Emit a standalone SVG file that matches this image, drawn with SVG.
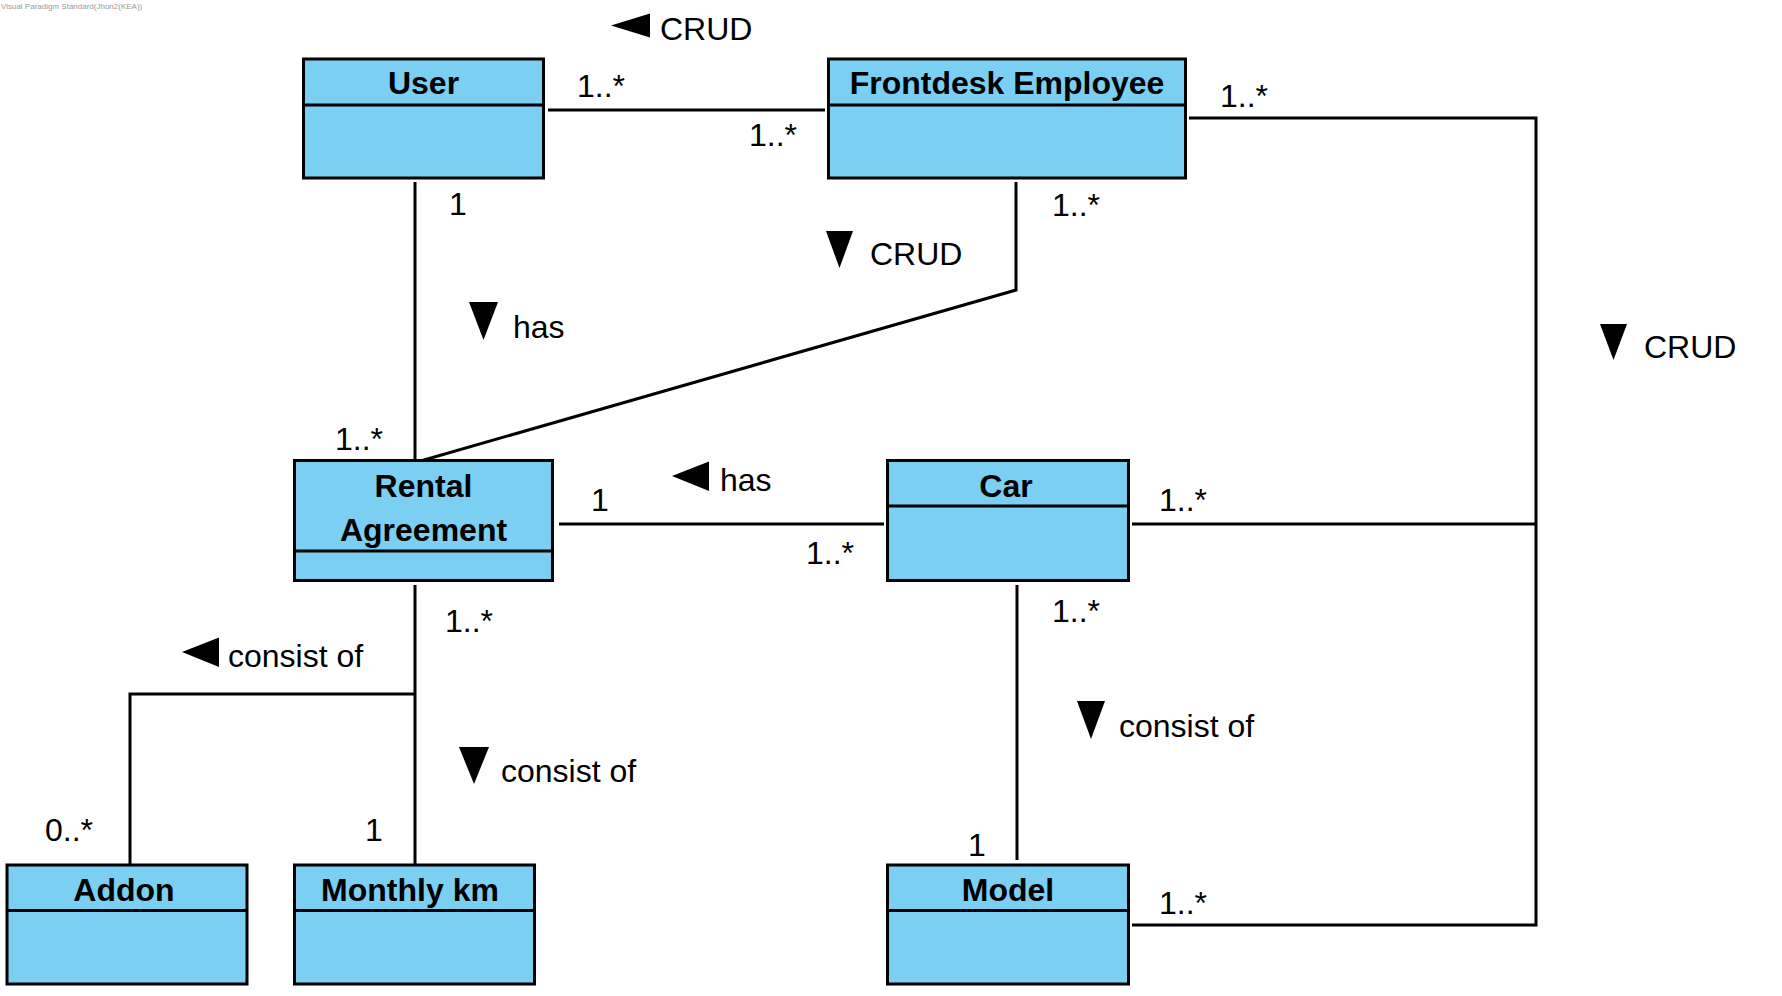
<svg xmlns="http://www.w3.org/2000/svg" width="1782" height="996" viewBox="0 0 1782 996">
<style>
.box{fill:#7ACFF3;stroke:#000;stroke-width:3}
.div{stroke:#000;stroke-width:3}
.title{font-family:"Liberation Sans",Arial,sans-serif;font-weight:bold;font-size:32px;fill:#000;text-anchor:middle}
.lbl{font-family:"Liberation Sans",Arial,sans-serif;font-size:32px;fill:#000}
.conn{fill:none;stroke:#000;stroke-width:3}
.tri{fill:#000}
.wm{font-family:"Liberation Sans",Arial,sans-serif;font-size:8px;fill:#999}
</style>
<rect width="1782" height="996" fill="#fff"/>
<text class="wm" x="1" y="9">Visual Paradigm Standard(Jhon2(KEA))</text>

<g id="connectors">
  <polyline class="conn" points="548,110 825,110"/>
  <polyline class="conn" points="415,182 415,460"/>
  <polyline class="conn" points="1016,182 1016,290 417,462"/>
  <polyline class="conn" points="1189,118 1536,118 1536,925 1132,925"/>
  <polyline class="conn" points="1132,524 1536,524"/>
  <polyline class="conn" points="559,524 884,524"/>
  <polyline class="conn" points="415,585 415,864"/>
  <polyline class="conn" points="415,694 130,694 130,864"/>
  <polyline class="conn" points="1017,585 1017,860"/>

  <text class="lbl" x="577" y="97">1..*</text>
  <text class="lbl" x="749" y="146">1..*</text>
  <text class="lbl" x="1220" y="107">1..*</text>
  <text class="lbl" x="449" y="215">1</text>
  <text class="lbl" x="1052" y="216">1..*</text>
  <text class="lbl" x="335" y="450">1..*</text>
  <text class="lbl" x="591" y="511">1</text>
  <text class="lbl" x="806" y="564">1..*</text>
  <text class="lbl" x="1159" y="511">1..*</text>
  <text class="lbl" x="445" y="632">1..*</text>
  <text class="lbl" x="1052" y="622">1..*</text>
  <text class="lbl" x="45" y="841">0..*</text>
  <text class="lbl" x="365" y="841">1</text>
  <text class="lbl" x="968" y="856">1</text>
  <text class="lbl" x="1159" y="914">1..*</text>

  <polygon class="tri" points="611,25.5 650,13.5 650,37.5"/>
  <text class="lbl" x="660" y="40">CRUD</text>
  <polygon class="tri" points="826,231 853,231 839.5,268"/>
  <text class="lbl" x="870" y="265">CRUD</text>
  <polygon class="tri" points="469,302 498,302 483.5,340"/>
  <text class="lbl" x="513" y="338">has</text>
  <polygon class="tri" points="1600,324 1627,324 1613.5,360"/>
  <text class="lbl" x="1644" y="358">CRUD</text>
  <polygon class="tri" points="672,476 709,461.5 709,491"/>
  <text class="lbl" x="720" y="491">has</text>
  <polygon class="tri" points="182,652 219,637.5 219,667"/>
  <text class="lbl" x="228" y="667">consist of</text>
  <polygon class="tri" points="459,747 489,747 474,784"/>
  <text class="lbl" x="501" y="782">consist of</text>
  <polygon class="tri" points="1077,701 1105,701 1091,739"/>
  <text class="lbl" x="1119" y="737">consist of</text>
</g>

<g id="user">
  <rect class="box" x="303.5" y="59" width="240" height="119"/>
  <line class="div" x1="303.5" y1="105" x2="543.5" y2="105"/>
  <text class="title" x="423.5" y="94">User</text>
</g>
<g id="frontdesk">
  <rect class="box" x="828.5" y="59" width="357" height="119"/>
  <line class="div" x1="828.5" y1="105" x2="1185.5" y2="105"/>
  <text class="title" x="1007" y="94">Frontdesk Employee</text>
</g>
<g id="rental">
  <rect class="box" x="294.5" y="460.5" width="258" height="120"/>
  <line class="div" x1="294.5" y1="551" x2="552.5" y2="551"/>
  <text class="title" x="423.5" y="497">Rental</text>
  <text class="title" x="423.5" y="541">Agreement</text>
</g>
<g id="car">
  <rect class="box" x="887.5" y="460.5" width="241" height="120"/>
  <line class="div" x1="887.5" y1="506" x2="1128.5" y2="506"/>
  <text class="title" x="1006" y="497">Car</text>
</g>
<g id="addon">
  <rect class="box" x="7" y="865" width="240" height="119"/>
  <line class="div" x1="7" y1="910.5" x2="247" y2="910.5"/>
  <text class="title" x="124" y="901">Addon</text>
</g>
<g id="monthly">
  <rect class="box" x="294.5" y="865" width="240" height="119"/>
  <line class="div" x1="294.5" y1="910.5" x2="534.5" y2="910.5"/>
  <text class="title" x="410" y="901">Monthly km</text>
</g>
<g id="model">
  <rect class="box" x="887.5" y="865" width="241" height="119"/>
  <line class="div" x1="887.5" y1="910.5" x2="1128.5" y2="910.5"/>
  <text class="title" x="1008" y="901">Model</text>
</g>
</svg>
